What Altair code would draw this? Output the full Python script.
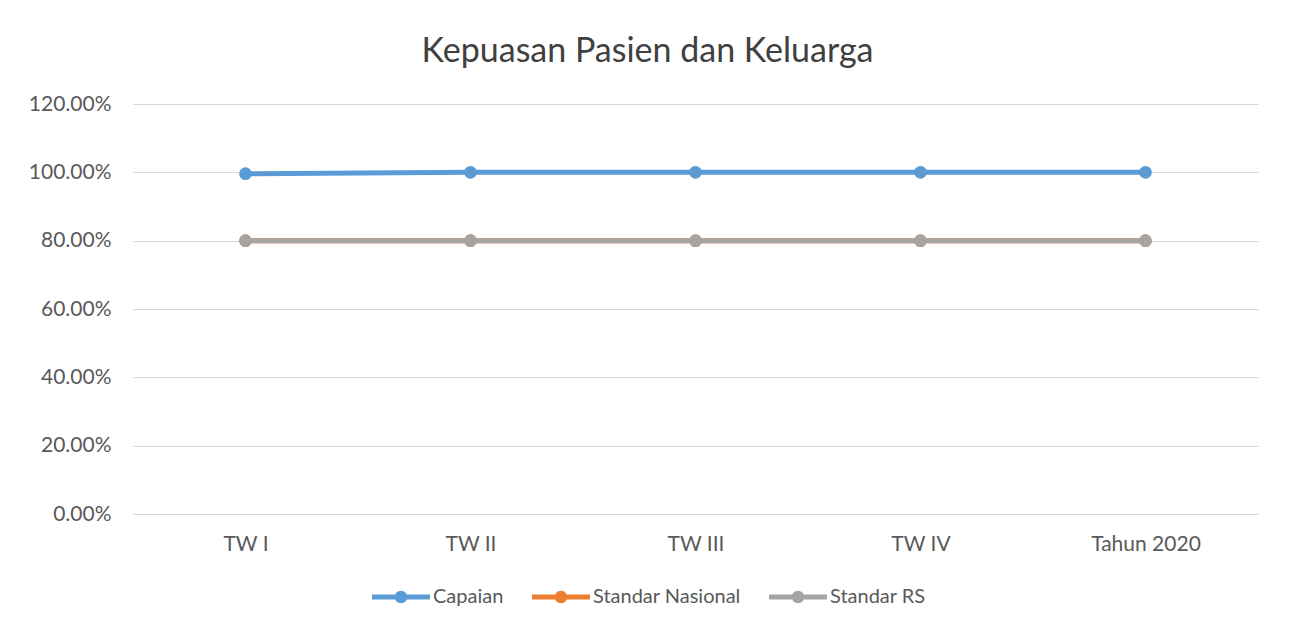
import altair as alt
import pandas as pd

categories = ["TW I", "TW II", "TW III", "TW IV", "Tahun 2020"]
series = ["Capaian", "Standar Nasional", "Standar RS"]
capaian = [0.996, 1.0, 1.0, 1.0, 1.0]
standar_nasional = [0.8, 0.8, 0.8, 0.8, 0.8]
standar_rs = [0.8, 0.8, 0.8, 0.8, 0.8]
colors = ["#5B9BD5", "#ED7D31", "#A5A5A5"]
y_ticks = [0, 0.2, 0.4, 0.6, 0.8, 1.0, 1.2]

rows = []
for s, vals in zip(series, [capaian, standar_nasional, standar_rs]):
    for c, v in zip(categories, vals):
        rows.append({"Kategori": c, "Seri": s, "Nilai": v})
df = pd.DataFrame(rows)

FONT = "Lato"
TXT = "#595959"

sym_path = ("M -1 -0.086 L 1 -0.086 L 1 0.086 L -1 0.086 Z "
            "M 0.215 0 A 0.215 0.215 0 1 1 -0.215 0 A 0.215 0.215 0 1 1 0.215 0 Z")

legend = alt.Legend(title=None, orient="none", legendX=239, legendY=464,
                    direction="horizontal", symbolType=sym_path,
                    symbolSize=3364, symbolStrokeWidth=0, symbolOpacity=1,
                    labelFontSize=20, labelColor=TXT, labelFont=FONT,
                    labelOffset=3, columnPadding=28, padding=0)

x = alt.X("Kategori:N", sort=categories, title=None,
          axis=alt.Axis(labelAngle=0, domain=False, ticks=False, grid=False,
                        labelFontSize=21, labelColor=TXT, labelFont=FONT,
                        labelPadding=19))
y = alt.Y("Nilai:Q", title=None,
          scale=alt.Scale(domain=[0, 1.2], nice=False),
          axis=alt.Axis(values=y_ticks, format=".2%", domain=False, ticks=False,
                        gridColor="#D9D9D9", gridWidth=1.2,
                        labelFontSize=21, labelColor=TXT, labelFont=FONT,
                        labelPadding=22))
color_scale = alt.Scale(domain=series, range=colors)

lines = alt.Chart(df).mark_line(strokeWidth=5).encode(
    x=x, y=y,
    color=alt.Color("Seri:N", scale=color_scale, legend=legend),
)
points = alt.Chart(df).mark_point(filled=True, size=160, opacity=1).encode(
    x=x, y=y,
    color=alt.Color("Seri:N", scale=color_scale, legend=legend),
)

chart = alt.layer(lines, points).properties(
    width=1125, height=410,
    title=alt.TitleParams("Kepuasan Pasien dan Keluarga", fontSize=34,
                          font=FONT, fontWeight="normal", color="#404040",
                          frame="group", anchor="middle", offset=24, dx=-48),
    autosize=alt.AutoSizeParams(type="none"),
    padding={"left": 125, "top": 96, "right": 23, "bottom": 100},
).configure_view(stroke=None)

chart.save("out.html", embed_options={"renderer": "svg", "actions": False})
